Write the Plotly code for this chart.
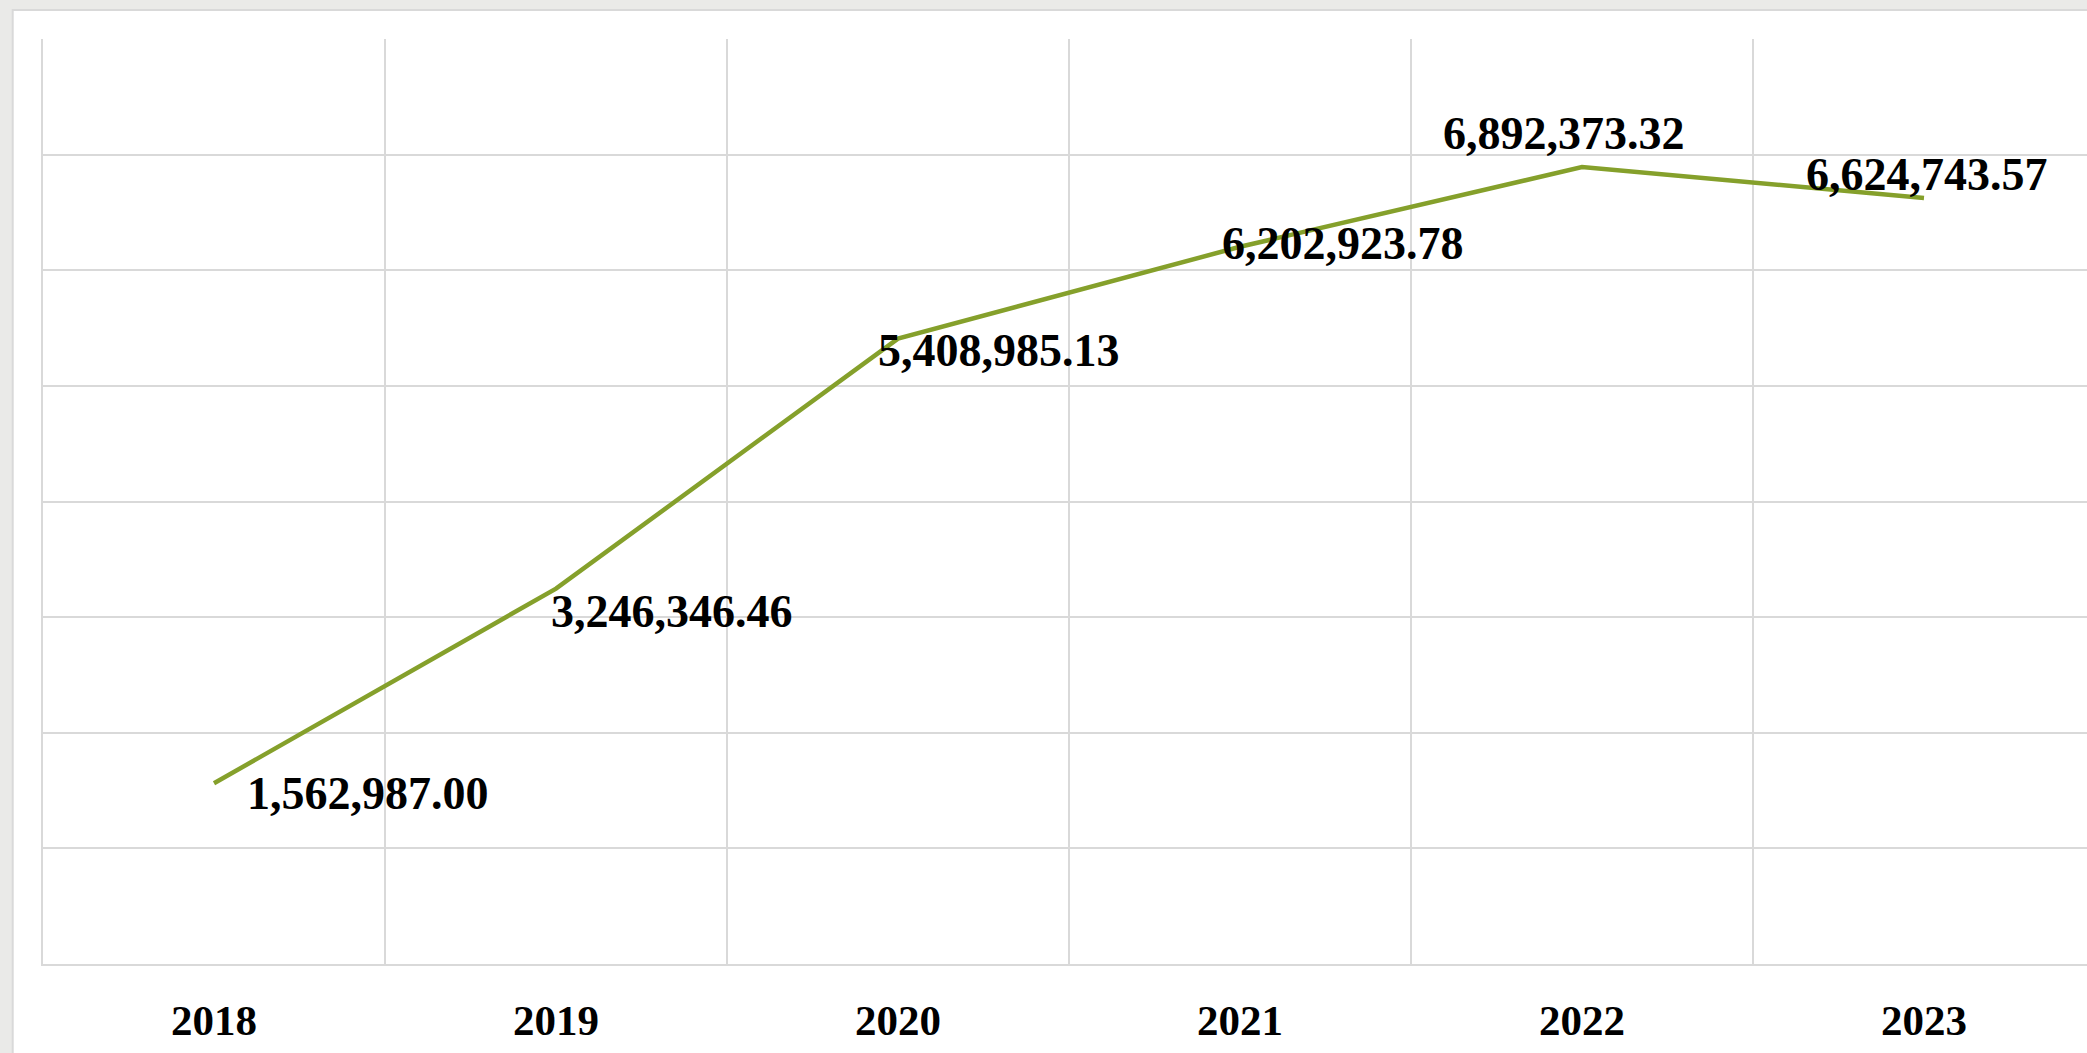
import plotly.graph_objects as go

years = ["2018", "2019", "2020", "2021", "2022", "2023"]
values = [1562987.00, 3246346.46, 5408985.13, 6202923.78, 6892373.32, 6624743.57]

# label placement (style only)
label_xanchor = ["left", "left", "left", "left", "center", "center"]
label_xshift = [31, -7, -22, -20, -18, 3]
label_yshift = [-10, -23, -12, 3, 34, 24]

W, H = 2087, 1053
ML, MT, MB = 43, 39, 89
plot_w = W - ML
plot_h = H - MT - MB
cat_w = 342.0

LINE_COLOR = "#85A02B"
GRID = "#D9D9D9"
FONT = "Liberation Serif"

fig = go.Figure()
fig.add_trace(go.Scatter(
    x=years, y=values, mode="lines",
    line=dict(color=LINE_COLOR, width=4.5),
    hoverinfo="skip", showlegend=False,
))

# category axis positions are serial indices of the categories
for i, v in enumerate(values):
    fig.add_annotation(
        x=i, y=v, xref="x", yref="y", text=f"{v:,.2f}", showarrow=False,
        xanchor=label_xanchor[i], yanchor="middle",
        xshift=label_xshift[i], yshift=label_yshift[i],
        font=dict(family=FONT, size=46, color="black", weight="bold"),
    )

# outer white panel
fig.add_shape(
    type="rect", xref="paper", yref="paper", layer="below",
    x0=(12.7 - ML) / plot_w, x1=1.02,
    y0=-0.2, y1=(plot_h + MT - 10) / plot_h,
    fillcolor="white", line=dict(color=GRID, width=2),
)

fig.update_xaxes(
    type="category",
    range=[-0.5, -0.5 + plot_w / cat_w],
    tickson="boundaries",
    showgrid=True, gridcolor=GRID, gridwidth=2,
    showline=True, linecolor=GRID, linewidth=2,
    ticks="", ticklabelstandoff=17,
    tickfont=dict(family=FONT, size=43, color="black", weight="bold"),
    fixedrange=True,
)
fig.update_yaxes(
    range=[0, 8000000], dtick=1000000,
    showgrid=True, gridcolor=GRID, gridwidth=2,
    showline=True, linecolor=GRID, linewidth=2,
    zeroline=False, showticklabels=False, ticks="",
    fixedrange=True,
)

fig.update_layout(
    width=W, height=H,
    margin=dict(l=ML, r=0, t=MT, b=MB, pad=0),
    paper_bgcolor="#EAEAE8",
    plot_bgcolor="white",
    showlegend=False,
)

fig.write_html(
    "out.html",
    config={"displayModeBar": False},
    post_script="document.body.style.margin='0px';document.body.style.overflow='hidden';",
)
